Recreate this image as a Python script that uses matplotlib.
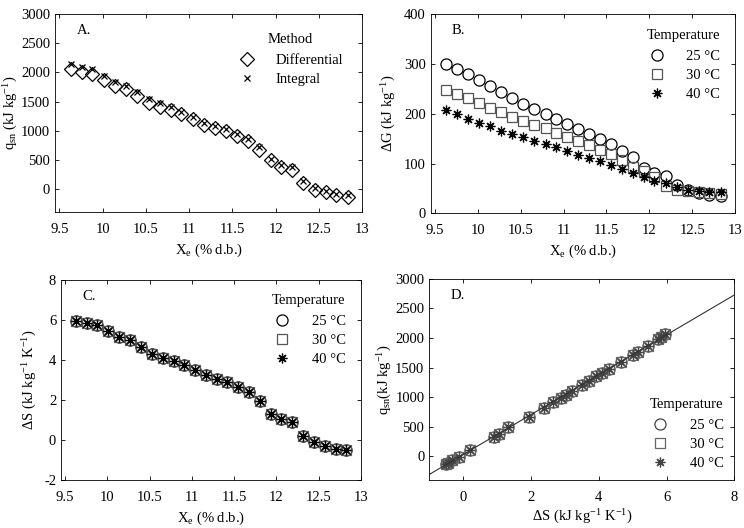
import numpy as np
import matplotlib
matplotlib.use('Agg')
import matplotlib.pyplot as plt

plt.rcParams['font.family'] = ['Liberation Serif', 'DejaVu Serif']
plt.rcParams['mathtext.fontset'] = 'custom'
plt.rcParams['mathtext.rm'] = 'Liberation Serif'
plt.rcParams['mathtext.it'] = 'Liberation Serif:italic'
plt.rcParams['font.size'] = 10.5
plt.rcParams['axes.unicode_minus'] = False

# equilibrium moisture content (% d.b.)
xe = [9.63, 9.76, 9.88, 10.01, 10.14, 10.27, 10.40, 10.53, 10.66, 10.79, 10.91, 11.04, 11.17,
      11.30, 11.42, 11.55, 11.68, 11.81, 11.94, 12.06, 12.19, 12.32, 12.45, 12.58, 12.70, 12.83]

# net isosteric heat (kJ/kg)
q_diff = [2060, 2010, 1980, 1870, 1770, 1710, 1600, 1480, 1410, 1350, 1280, 1200, 1100,
          1040, 990, 910, 820, 670, 490, 380, 330, 100, -10, -60, -110, -130]
q_int = [2140, 2090, 2060, 1940, 1840, 1770, 1670, 1540, 1470, 1400, 1330, 1240, 1140,
         1080, 1030, 950, 860, 720, 510, 420, 380, 140, 20, -40, -80, -100]

# Gibbs free energy (kJ/kg)
dG_25 = [300, 290, 280, 267, 255, 244, 232, 220, 210, 200, 190, 180, 170,
         159, 150, 139, 126, 114, 92, 82, 74, 57, 47, 40, 36, 34]
dG_30 = [247, 240, 231, 222, 212, 204, 193, 185, 177, 171, 162, 153, 145,
         137, 128, 119, 107, 94, 85, 73, 55, 47, 45, 42, 40, 38]
dG_40 = [207, 199, 190, 182, 175, 166, 159, 153, 146, 140, 133, 125, 118,
         112, 105, 98, 89, 82, 72, 65, 60, 52, 47, 44, 42, 42]

# entropy (kJ/kg/K)
dS = [5.95, 5.85, 5.75, 5.45, 5.15, 5.0, 4.65, 4.3, 4.1, 3.92, 3.72, 3.5, 3.22,
      3.02, 2.88, 2.65, 2.38, 1.95, 1.32, 1.05, 0.92, 0.2, -0.12, -0.32, -0.45, -0.52]

temps = ['25 °C', '30 °C', '40 °C']
xe_ticks = ['9.5', '10', '10.5', '11', '11.5', '12', '12.5', '13']
AST = (8, 2, 0)

fig = plt.figure(figsize=(7.44, 5.28), dpi=100)
axA = fig.add_axes([0.074, 0.598, 0.413, 0.375])
axB = fig.add_axes([0.579, 0.596, 0.409, 0.377])
axC = fig.add_axes([0.082, 0.091, 0.403, 0.379])
axD = fig.add_axes([0.577, 0.091, 0.410, 0.381])

def style(ax):
    ax.tick_params(direction='in', top=True, right=True, length=3, width=0.6)
    ax.tick_params(axis='x', pad=8)
    for s in ax.spines.values():
        s.set_linewidth(0.6)

def legend(ax, title, loc, tpad, bpad=0.6):
    leg = ax.legend(title=title, frameon=False, loc=loc, handletextpad=tpad,
                    handlelength=1.5, labelspacing=0.4, borderaxespad=bpad)
    leg._legend_box.sep = 5.5
    return leg

# A
axA.plot(xe, q_diff, 'D', ms=7, mfc='none', mec='black', mew=0.9, label='Differential')
axA.plot(xe, q_int, 'x', ms=5, color='black', mew=0.9, label='Integral')
axA.set_xlim(9.45, 13)
axA.set_ylim(-400, 3000)
axA.set_yticks(np.arange(0, 3001, 500))
axA.set_xticks(np.arange(9.5, 13.01, 0.5))
axA.set_xticklabels(xe_ticks)
axA.set_xlabel('X$_{\\mathrm{e}}$ (% d.b.)')
axA.set_ylabel('q$_{\\mathrm{sn}}$ (kJ kg$^{-1}$)', labelpad=1)
axA.text(0.07, 0.9, 'A.', transform=axA.transAxes)
legend(axA, 'Method', 'upper right', 1.2, 0.9)
style(axA)

# B
axB.plot(xe, dG_25, 'o', ms=8, mfc='none', mec='black', mew=0.9, label=temps[0])
axB.plot(xe, dG_30, 's', ms=7, mfc='none', mec='#555555', mew=0.9, label=temps[1])
axB.plot(xe, dG_40, marker=AST, ls='none', ms=7, color='black', mew=0.9, label=temps[2])
axB.set_xlim(9.45, 13)
axB.set_ylim(0, 400)
axB.set_yticks(np.arange(0, 401, 100))
axB.set_xticks(np.arange(9.5, 13.01, 0.5))
axB.set_xticklabels(xe_ticks)
axB.set_xlabel('X$_{\\mathrm{e}}$ (% d.b.)')
axB.set_ylabel('ΔG (kJ kg$^{-1}$)')
axB.text(0.07, 0.9, 'B.', transform=axB.transAxes)
legend(axB, 'Temperature', 'upper right', 1.3)
style(axB)

# C
axC.plot(xe, dS, 'o', ms=8, mfc='none', mec='black', mew=0.9, label=temps[0])
axC.plot(xe, dS, 's', ms=7, mfc='none', mec='#555555', mew=0.9, label=temps[1])
axC.plot(xe, dS, marker=AST, ls='none', ms=7, color='black', mew=0.9, label=temps[2])
axC.set_xlim(9.45, 13)
axC.set_ylim(-2, 8)
axC.set_xticks(np.arange(9.5, 13.01, 0.5))
axC.set_xticklabels(xe_ticks)
axC.set_xlabel('X$_{\\mathrm{e}}$ (% d.b.)')
axC.set_ylabel('ΔS (kJ kg$^{-1}$ K$^{-1}$)')
axC.text(0.07, 0.9, 'C.', transform=axC.transAxes)
legend(axC, 'Temperature', 'upper right', 1.3)
style(axC)

# D
axD.plot(dS, q_diff, 'o', ms=8, mfc='none', mec='#444444', mew=0.9, label=temps[0])
axD.plot(dS, q_diff, 's', ms=7, mfc='none', mec='#666666', mew=0.9, label=temps[1])
axD.plot(dS, q_diff, marker=AST, ls='none', ms=7, color='#444444', mew=0.9, label=temps[2])
k, b = np.polyfit(dS, q_diff, 1)
xl = np.array([-1, 8])
axD.plot(xl, k * xl + b, color='#333333', lw=0.8)
axD.set_xlim(-1, 8)
axD.set_ylim(-400, 3000)
axD.set_yticks(np.arange(0, 3001, 500))
axD.set_xlabel('ΔS (kJ kg$^{-1}$ K$^{-1}$)', labelpad=3)
axD.set_ylabel('q$_{\\mathrm{sn}}$(kJ kg$^{-1}$)', labelpad=1)
axD.text(0.07, 0.9, 'D.', transform=axD.transAxes)
legend(axD, 'Temperature', 'lower right', 1.3, 0.3)
style(axD)

fig.savefig('out.png', dpi=100)
